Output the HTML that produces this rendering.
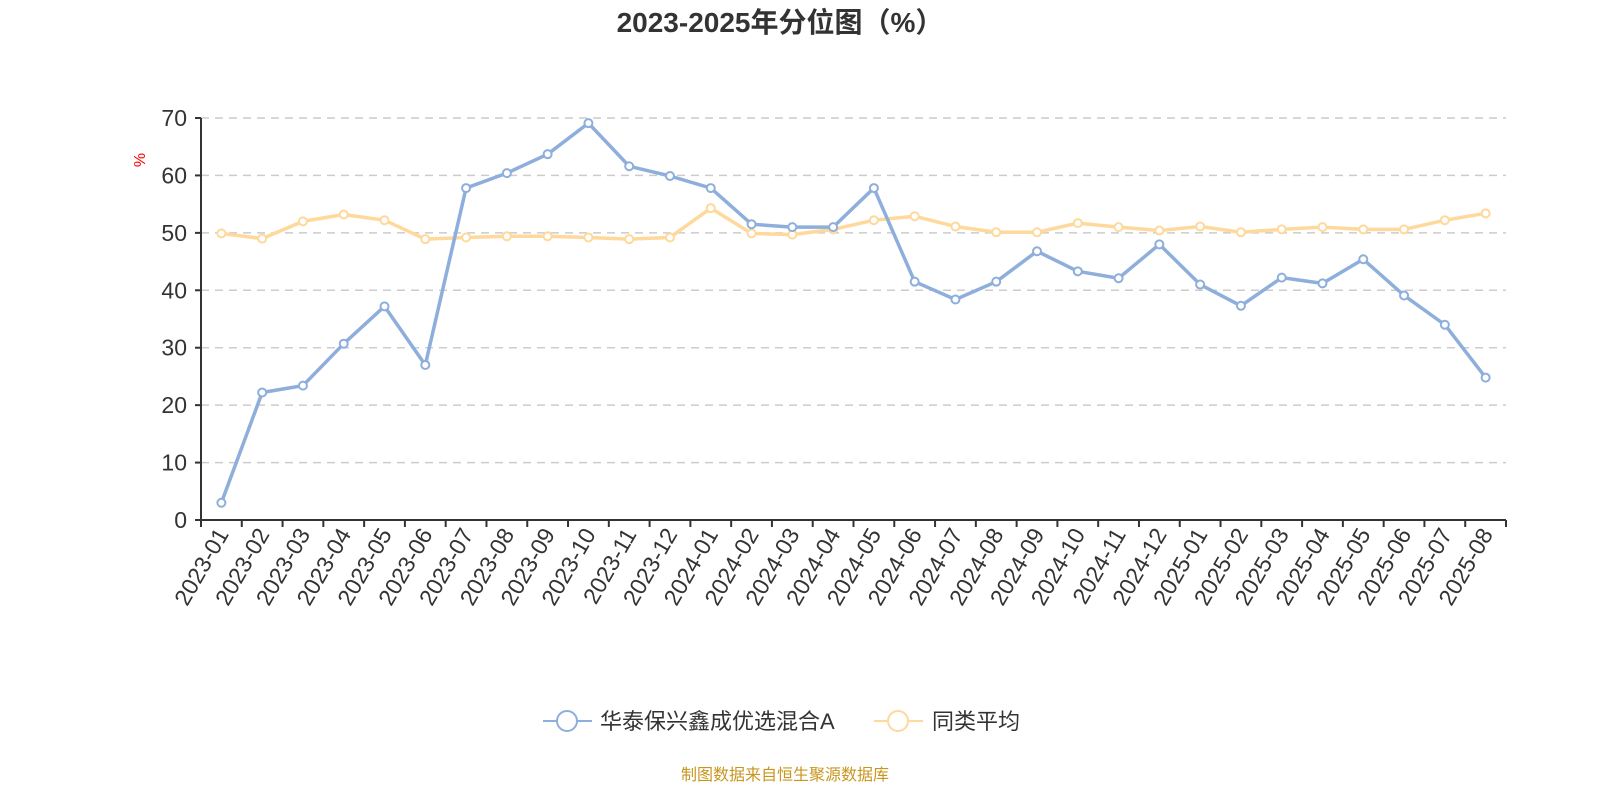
<!DOCTYPE html>
<html><head><meta charset="utf-8"><style>
body{margin:0;background:#fff;}
svg text{font-family:"Liberation Sans","Noto Sans CJK SC",sans-serif;}
</style></head><body>
<svg width="1600" height="800" xmlns="http://www.w3.org/2000/svg">
<text x="780" y="32" text-anchor="middle" font-size="28" font-weight="bold" fill="#333">2023-2025年分位图（%）</text>
<text transform="translate(145,160) rotate(-90)" text-anchor="middle" font-size="16" fill="#f00">%</text>
<g id="grid"></g><g id="axes"></g><g id="series"></g>
<g>
<g>
<line x1="543" y1="721" x2="592" y2="721" stroke="#8eaedb" stroke-width="2"/>
<circle cx="567" cy="721" r="10" fill="#fff" stroke="#8eaedb" stroke-width="2"/>
<text x="600" y="729" font-size="22" fill="#333">华泰保兴鑫成优选混合A</text></g>
<g>
<line x1="874" y1="721" x2="923" y2="721" stroke="#fed99b" stroke-width="2"/>
<circle cx="898" cy="721" r="10" fill="#fff" stroke="#fed99b" stroke-width="2"/>
<text x="932" y="729" font-size="22" fill="#333">同类平均</text></g>
</g>
<text x="785" y="780" text-anchor="middle" font-size="16" fill="#c8961e">制图数据来自恒生聚源数据库</text>
</svg>
<script>
const categories=["2023-01","2023-02","2023-03","2023-04","2023-05","2023-06","2023-07","2023-08","2023-09","2023-10","2023-11","2023-12","2024-01","2024-02","2024-03","2024-04","2024-05","2024-06","2024-07","2024-08","2024-09","2024-10","2024-11","2024-12","2025-01","2025-02","2025-03","2025-04","2025-05","2025-06","2025-07","2025-08"];
const fundValues=[3.0,22.2,23.4,30.7,37.2,27.0,57.8,60.4,63.7,69.1,61.6,59.9,57.8,51.5,51.0,51.0,57.8,41.5,38.4,41.5,46.8,43.3,42.1,48.0,41.0,37.3,42.2,41.2,45.4,39.1,34.0,24.8];
const avgValues=[49.9,49.0,52.0,53.2,52.2,48.9,49.2,49.4,49.4,49.2,48.9,49.2,54.3,49.9,49.7,50.6,52.2,52.9,51.1,50.1,50.1,51.7,51.0,50.4,51.1,50.1,50.6,51.0,50.6,50.6,52.2,53.4];
const yTicks=[0,10,20,30,40,50,60,70];
const NS="http://www.w3.org/2000/svg";
const L=201,R=1506,T=118,B=520,yMax=70;
const bw=(R-L)/categories.length;
const xs=i=>L+bw*(i+0.5);
const ys=v=>B-(v/yMax)*(B-T);
function mk(tag,attrs,parent){const e=document.createElementNS(NS,tag);for(const k in attrs)e.setAttribute(k,attrs[k]);parent.appendChild(e);return e;}
const grid=document.getElementById('grid'),axes=document.getElementById('axes'),ser=document.getElementById('series');
yTicks.forEach(t=>{
 if(t>0){const g=mk('line',{x1:L,x2:R,y1:ys(t),y2:ys(t),stroke:'#ccc','stroke-width':1.5,'stroke-dasharray':'8,6'},grid);
 
 }
 const tk=mk('line',{x1:L-6,x2:L,y1:ys(t),y2:ys(t),stroke:'#333','stroke-width':2},axes);
 
 
 const tx=mk('text',{x:L-14,y:ys(t)+8,'text-anchor':'end','font-size':23,fill:'#333'},axes);
 tx.textContent=t;
 
 
});
const ya=mk('line',{x1:L,x2:L,y1:T,y2:B,stroke:'#333','stroke-width':2},axes);


const xa=mk('line',{x1:L,x2:R,y1:B,y2:B,stroke:'#333','stroke-width':2},axes);


for(let i=0;i<=categories.length;i++){
 const tk=mk('line',{x1:L+bw*i,x2:L+bw*i,y1:B,y2:B+7,stroke:'#333','stroke-width':2},axes);
 
 
}
categories.forEach((c,i)=>{
 const x=xs(i)+8,y=B+14;
 const tx=mk('text',{x:x,y:y,'text-anchor':'end','font-size':23,fill:'#333',transform:`rotate(-60 ${x} ${y})`},axes);
 tx.textContent=c;
 
 
});
function drawSeries(vals,color,name){
 const g=mk('g',{},ser);
 
 
 const p=mk('polyline',{points:vals.map((v,i)=>xs(i)+','+ys(v)).join(' '),fill:'none',stroke:color,'stroke-width':3.5,'stroke-linejoin':'round'},g);
 
 
 vals.forEach((v,i)=>{
  const c=mk('circle',{cx:xs(i),cy:ys(v),r:4,fill:'#fff',stroke:color,'stroke-width':2},g);
  
  
 });
}
drawSeries(avgValues,'#fed99b','average-series');
drawSeries(fundValues,'#8eaedb','fund-series');
</script>
</body></html>
